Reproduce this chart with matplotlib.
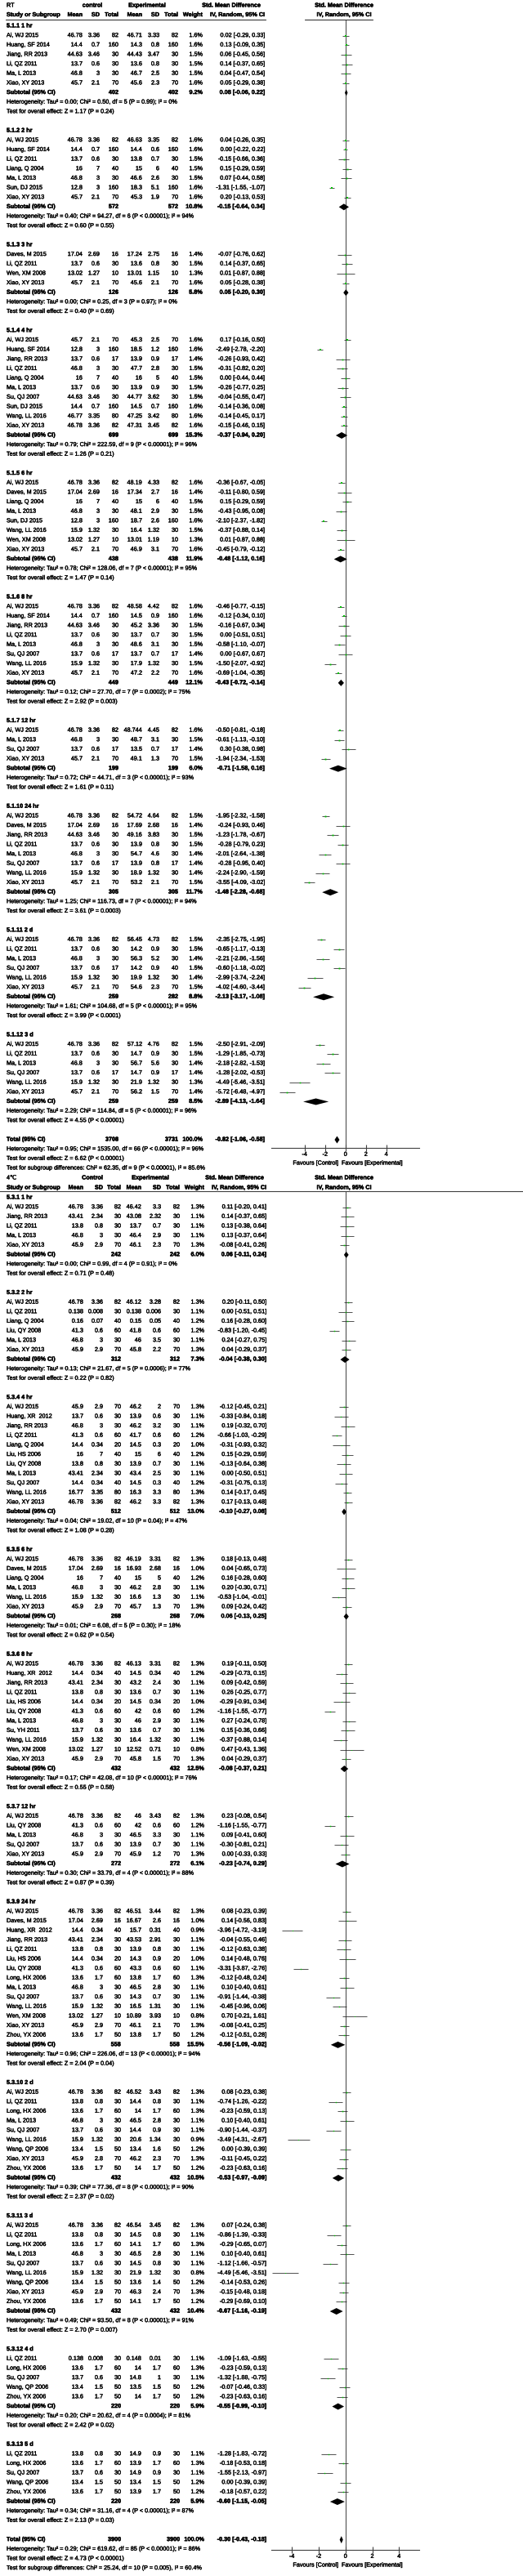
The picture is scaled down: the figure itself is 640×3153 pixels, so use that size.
import matplotlib
matplotlib.use('Agg')
import matplotlib.pyplot as plt
import matplotlib.patheffects as pe
from matplotlib import font_manager as fm
from matplotlib.textpath import TextPath
from matplotlib.font_manager import FontProperties

names = {f.name for f in fm.fontManager.ttflist}
base = 'Liberation Sans Narrow' if 'Liberation Sans Narrow' in names else 'Liberation Sans'
plt.rcParams['font.family'] = [base, 'DejaVu Sans']
plt.rcParams['axes.unicode_minus'] = False

# ---------------- data: panel 1 (RT) ----------------
RT_1HR = [
    ("Ai, WJ 2015", 46.78, 3.36, 82, 46.71, 3.33, 82, 1.6, 0.02, -0.29, 0.33),
    ("Huang, SF 2014", 14.4, 0.7, 160, 14.3, 0.8, 160, 1.6, 0.13, -0.09, 0.35),
    ("Jiang, RR 2013", 44.63, 3.46, 30, 44.43, 3.47, 30, 1.5, 0.06, -0.45, 0.56),
    ("Li, QZ 2011", 13.7, 0.6, 30, 13.6, 0.8, 30, 1.5, 0.14, -0.37, 0.65),
    ("Ma, L 2013", 46.8, 3, 30, 46.7, 2.5, 30, 1.5, 0.04, -0.47, 0.54),
    ("Xiao, XY 2013", 45.7, 2.1, 70, 45.6, 2.3, 70, 1.6, 0.05, -0.29, 0.38),
]
RT_2HR = [
    ("Ai, WJ 2015", 46.78, 3.36, 82, 46.63, 3.35, 82, 1.6, 0.04, -0.26, 0.35),
    ("Huang, SF 2014", 14.4, 0.7, 160, 14.4, 0.6, 160, 1.6, 0.00, -0.22, 0.22),
    ("Li, QZ 2011", 13.7, 0.6, 30, 13.8, 0.7, 30, 1.5, -0.15, -0.66, 0.36),
    ("Liang, Q 2004", 16, 7, 40, 15, 6, 40, 1.5, 0.15, -0.29, 0.59),
    ("Ma, L 2013", 46.8, 3, 30, 46.6, 2.6, 30, 1.5, 0.07, -0.44, 0.58),
    ("Sun, DJ 2015", 12.8, 3, 160, 18.3, 5.1, 160, 1.6, -1.31, -1.55, -1.07),
    ("Xiao, XY 2013", 45.7, 2.1, 70, 45.3, 1.9, 70, 1.6, 0.20, -0.13, 0.53),
]
RT_3HR = [
    ("Daves, M 2015", 17.04, 2.69, 16, 17.24, 2.75, 16, 1.4, -0.07, -0.76, 0.62),
    ("Li, QZ 2011", 13.7, 0.6, 30, 13.6, 0.8, 30, 1.5, 0.14, -0.37, 0.65),
    ("Wen, XM 2008", 13.02, 1.27, 10, 13.01, 1.15, 10, 1.3, 0.01, -0.87, 0.88),
    ("Xiao, XY 2013", 45.7, 2.1, 70, 45.6, 2.1, 70, 1.6, 0.05, -0.28, 0.38),
]
RT_4HR = [
    ("Ai, WJ 2015", 45.7, 2.1, 70, 45.3, 2.5, 70, 1.6, 0.17, -0.16, 0.50),
    ("Huang, SF 2014", 12.8, 3, 160, 18.5, 1.2, 160, 1.6, -2.49, -2.78, -2.20),
    ("Jiang, RR 2013", 13.7, 0.6, 17, 13.9, 0.9, 17, 1.4, -0.26, -0.93, 0.42),
    ("Li, QZ 2011", 46.8, 3, 30, 47.7, 2.8, 30, 1.5, -0.31, -0.82, 0.20),
    ("Liang, Q 2004", 16, 7, 40, 16, 5, 40, 1.5, 0.00, -0.44, 0.44),
    ("Ma, L 2013", 13.7, 0.6, 30, 13.9, 0.9, 30, 1.5, -0.26, -0.77, 0.25),
    ("Su, QJ 2007", 44.63, 3.46, 30, 44.77, 3.62, 30, 1.5, -0.04, -0.55, 0.47),
    ("Sun, DJ 2015", 14.4, 0.7, 160, 14.5, 0.7, 160, 1.6, -0.14, -0.36, 0.08),
    ("Wang, LL 2016", 46.77, 3.35, 80, 47.25, 3.42, 80, 1.6, -0.14, -0.45, 0.17),
    ("Xiao, XY 2013", 46.78, 3.36, 82, 47.31, 3.45, 82, 1.6, -0.15, -0.46, 0.15),
]
RT_6HR = [
    ("Ai, WJ 2015", 46.78, 3.36, 82, 48.19, 4.33, 82, 1.6, -0.36, -0.67, -0.05),
    ("Daves, M 2015", 17.04, 2.69, 16, 17.34, 2.7, 16, 1.4, -0.11, -0.80, 0.59),
    ("Liang, Q 2004", 16, 7, 40, 15, 6, 40, 1.5, 0.15, -0.29, 0.59),
    ("Ma, L 2013", 46.8, 3, 30, 48.1, 2.9, 30, 1.5, -0.43, -0.95, 0.08),
    ("Sun, DJ 2015", 12.8, 3, 160, 18.7, 2.6, 160, 1.6, -2.10, -2.37, -1.82),
    ("Wang, LL 2016", 15.9, 1.32, 30, 16.4, 1.32, 30, 1.5, -0.37, -0.88, 0.14),
    ("Wen, XM 2008", 13.02, 1.27, 10, 13.01, 1.19, 10, 1.3, 0.01, -0.87, 0.88),
    ("Xiao, XY 2013", 45.7, 2.1, 70, 46.9, 3.1, 70, 1.6, -0.45, -0.79, -0.12),
]
RT_8HR = [
    ("Ai, WJ 2015", 46.78, 3.36, 82, 48.58, 4.42, 82, 1.6, -0.46, -0.77, -0.15),
    ("Huang, SF 2014", 14.4, 0.7, 160, 14.5, 0.9, 160, 1.6, -0.12, -0.34, 0.10),
    ("Jiang, RR 2013", 44.63, 3.46, 30, 45.2, 3.36, 30, 1.5, -0.16, -0.67, 0.34),
    ("Li, QZ 2011", 13.7, 0.6, 30, 13.7, 0.7, 30, 1.5, 0.00, -0.51, 0.51),
    ("Ma, L 2013", 46.8, 3, 30, 48.6, 3.1, 30, 1.5, -0.58, -1.10, -0.07),
    ("Su, QJ 2007", 13.7, 0.6, 17, 13.7, 0.7, 17, 1.4, 0.00, -0.67, 0.67),
    ("Wang, LL 2016", 15.9, 1.32, 30, 17.9, 1.32, 30, 1.5, -1.50, -2.07, -0.92),
    ("Xiao, XY 2013", 45.7, 2.1, 70, 47.2, 2.2, 70, 1.6, -0.69, -1.04, -0.35),
]
RT_12HR = [
    ("Ai, WJ 2015", 46.78, 3.36, 82, 48.744, 4.45, 82, 1.6, -0.50, -0.81, -0.18),
    ("Ma, L 2013", 46.8, 3, 30, 48.7, 3.1, 30, 1.5, -0.61, -1.13, -0.10),
    ("Su, QJ 2007", 13.7, 0.6, 17, 13.5, 0.7, 17, 1.4, 0.30, -0.38, 0.98),
    ("Xiao, XY 2013", 45.7, 2.1, 70, 49.1, 1.3, 70, 1.5, -1.94, -2.34, -1.53),
]
RT_24HR = [
    ("Ai, WJ 2015", 46.78, 3.36, 82, 54.72, 4.64, 82, 1.5, -1.95, -2.32, -1.58),
    ("Daves, M 2015", 17.04, 2.69, 16, 17.69, 2.68, 16, 1.4, -0.24, -0.93, 0.46),
    ("Jiang, RR 2013", 44.63, 3.46, 30, 49.16, 3.83, 30, 1.5, -1.23, -1.78, -0.67),
    ("Li, QZ 2011", 13.7, 0.6, 30, 13.9, 0.8, 30, 1.5, -0.28, -0.79, 0.23),
    ("Ma, L 2013", 46.8, 3, 30, 54.7, 4.6, 30, 1.4, -2.01, -2.64, -1.38),
    ("Su, QJ 2007", 13.7, 0.6, 17, 13.9, 0.8, 17, 1.4, -0.28, -0.95, 0.40),
    ("Wang, LL 2016", 15.9, 1.32, 30, 18.9, 1.32, 30, 1.4, -2.24, -2.90, -1.59),
    ("Xiao, XY 2013", 45.7, 2.1, 70, 53.2, 2.1, 70, 1.5, -3.55, -4.09, -3.02),
]
RT_2D = [
    ("Ai, WJ 2015", 46.78, 3.36, 82, 56.45, 4.73, 82, 1.5, -2.35, -2.75, -1.95),
    ("Li, QZ 2011", 13.7, 0.6, 30, 14.2, 0.9, 30, 1.5, -0.65, -1.17, -0.13),
    ("Ma, L 2013", 46.8, 3, 30, 56.3, 5.2, 30, 1.4, -2.21, -2.86, -1.56),
    ("Su, QJ 2007", 13.7, 0.6, 17, 14.2, 0.9, 40, 1.5, -0.60, -1.18, -0.02),
    ("Wang, LL 2016", 15.9, 1.32, 30, 19.9, 1.32, 30, 1.4, -2.99, -3.74, -2.24),
    ("Xiao, XY 2013", 45.7, 2.1, 70, 54.6, 2.3, 70, 1.5, -4.02, -4.60, -3.44),
]
RT_3D = [
    ("Ai, WJ 2015", 46.78, 3.36, 82, 57.12, 4.76, 82, 1.5, -2.50, -2.91, -2.09),
    ("Li, QZ 2011", 13.7, 0.6, 30, 14.7, 0.9, 30, 1.5, -1.29, -1.85, -0.73),
    ("Ma, L 2013", 46.8, 3, 30, 56.7, 5.6, 30, 1.4, -2.18, -2.82, -1.53),
    ("Su, QJ 2007", 13.7, 0.6, 17, 14.7, 0.9, 17, 1.4, -1.28, -2.02, -0.53),
    ("Wang, LL 2016", 15.9, 1.32, 30, 21.9, 1.32, 30, 1.3, -4.49, -5.46, -3.51),
    ("Xiao, XY 2013", 45.7, 2.1, 70, 56.2, 1.5, 70, 1.4, -5.72, -6.48, -4.97),
]
RT_TITLES = ["5.1.1 1 hr", "5.1.2 2 hr", "5.1.3 3 hr", "5.1.4 4 hr", "5.1.5 6 hr",
             "5.1.6 8 hr", "5.1.7 12 hr", "5.1.10 24 hr", "5.1.11 2 d", "5.1.12 3 d"]
RT_STUDIES = [RT_1HR, RT_2HR, RT_3HR, RT_4HR, RT_6HR, RT_8HR, RT_12HR, RT_24HR, RT_2D, RT_3D]
RT_SUBTOTALS = [
    (402, 402, 9.2, 0.08, -0.06, 0.22), (572, 572, 10.8, -0.15, -0.64, 0.34),
    (126, 126, 5.8, 0.05, -0.20, 0.30), (699, 699, 15.3, -0.37, -0.94, 0.20),
    (438, 438, 11.9, -0.48, -1.12, 0.16), (449, 449, 12.1, -0.43, -0.72, -0.14),
    (199, 199, 6.0, -0.71, -1.58, 0.16), (305, 305, 11.7, -1.48, -2.28, -0.68),
    (259, 282, 8.8, -2.13, -3.17, -1.08), (259, 259, 8.5, -2.89, -4.13, -1.64),
]
RT_HET = [
    "Tau² = 0.00; Chi² = 0.50, df = 5 (P = 0.99); I² = 0%",
    "Tau² = 0.40; Chi² = 94.27, df = 6 (P < 0.00001); I² = 94%",
    "Tau² = 0.00; Chi² = 0.25, df = 3 (P = 0.97); I² = 0%",
    "Tau² = 0.79; Chi² = 222.59, df = 9 (P < 0.00001); I² = 96%",
    "Tau² = 0.78; Chi² = 128.06, df = 7 (P < 0.00001); I² = 95%",
    "Tau² = 0.12; Chi² = 27.70, df = 7 (P = 0.0002); I² = 75%",
    "Tau² = 0.72; Chi² = 44.71, df = 3 (P < 0.00001); I² = 93%",
    "Tau² = 1.25; Chi² = 116.73, df = 7 (P < 0.00001); I² = 94%",
    "Tau² = 1.61; Chi² = 104.68, df = 5 (P < 0.00001); I² = 95%",
    "Tau² = 2.29; Chi² = 114.84, df = 5 (P < 0.00001); I² = 96%",
]
RT_TEST = ["Z = 1.17 (P = 0.24)", "Z = 0.60 (P = 0.55)", "Z = 0.40 (P = 0.69)",
           "Z = 1.26 (P = 0.21)", "Z = 1.47 (P = 0.14)", "Z = 2.92 (P = 0.003)",
           "Z = 1.61 (P = 0.11)", "Z = 3.61 (P = 0.0003)", "Z = 3.99 (P < 0.0001)",
           "Z = 4.55 (P < 0.00001)"]
RT_TOTAL = (3708, 3731, 100.0, -0.82, -1.06, -0.58)
RT_TOTAL_TEXT = ["Heterogeneity: Tau² = 0.95; Chi² = 1535.00, df = 66 (P < 0.00001); I² = 96%",
                 "Test for overall effect: Z = 6.62 (P < 0.00001)",
                 "Test for subgroup differences: Chi² = 62.35, df = 9 (P < 0.00001), I² = 85.6%"]

# ---------------- data: panel 2 (4 C) ----------------
C4_1HR = [
    ("Ai, WJ 2015", 46.78, 3.36, 82, 46.42, 3.3, 82, 1.3, 0.11, -0.20, 0.41),
    ("Jiang, RR 2013", 43.41, 2.34, 30, 43.08, 2.32, 30, 1.1, 0.14, -0.37, 0.65),
    ("Li, QZ 2011", 13.8, 0.8, 30, 13.7, 0.7, 30, 1.1, 0.13, -0.38, 0.64),
    ("Ma, L 2013", 46.8, 3, 30, 46.4, 2.9, 30, 1.1, 0.13, -0.37, 0.64),
    ("Xiao, XY 2013", 45.9, 2.9, 70, 46.1, 2.3, 70, 1.3, -0.08, -0.41, 0.26),
]
C4_2HR = [
    ("Ai, WJ 2015", 46.78, 3.36, 82, 46.12, 3.28, 82, 1.3, 0.20, -0.11, 0.50),
    ("Li, QZ 2011", 0.138, 0.008, 30, 0.138, 0.006, 30, 1.1, 0.00, -0.51, 0.51),
    ("Liang, Q 2004", 0.16, 0.07, 40, 0.15, 0.05, 40, 1.2, 0.16, -0.28, 0.60),
    ("Liu, QY 2008", 41.3, 0.6, 60, 41.8, 0.6, 60, 1.2, -0.83, -1.20, -0.45),
    ("Ma, L 2013", 46.8, 3, 30, 46, 3.5, 30, 1.1, 0.24, -0.27, 0.75),
    ("Xiao, XY 2013", 45.9, 2.9, 70, 45.8, 2.2, 70, 1.3, 0.04, -0.29, 0.37),
]
C4_4HR = [
    ("Ai, WJ 2015", 45.9, 2.9, 70, 46.2, 2, 70, 1.3, -0.12, -0.45, 0.21),
    ("Huang, XR  2012", 13.7, 0.6, 30, 13.9, 0.6, 30, 1.1, -0.33, -0.84, 0.18),
    ("Jiang, RR 2013", 46.8, 3, 30, 46.2, 3.2, 30, 1.1, 0.19, -0.32, 0.70),
    ("Li, QZ 2011", 41.3, 0.6, 60, 41.7, 0.6, 60, 1.2, -0.66, -1.03, -0.29),
    ("Liang, Q 2004", 14.4, 0.34, 20, 14.5, 0.3, 20, 1.0, -0.31, -0.93, 0.32),
    ("Liu, HS 2006", 16, 7, 40, 15, 6, 40, 1.2, 0.15, -0.29, 0.59),
    ("Liu, QY 2008", 13.8, 0.8, 30, 13.9, 0.7, 30, 1.1, -0.13, -0.64, 0.38),
    ("Ma, L 2013", 43.41, 2.34, 30, 43.4, 2.5, 30, 1.1, 0.00, -0.50, 0.51),
    ("Su, QJ 2007", 14.4, 0.34, 40, 14.5, 0.3, 40, 1.2, -0.31, -0.75, 0.13),
    ("Wang, LL 2016", 16.77, 3.35, 80, 16.3, 3.3, 80, 1.3, 0.14, -0.17, 0.45),
    ("Xiao, XY 2013", 46.78, 3.36, 82, 46.2, 3.3, 82, 1.3, 0.17, -0.13, 0.48),
]
C4_6HR = [
    ("Ai, WJ 2015", 46.78, 3.36, 82, 46.19, 3.31, 82, 1.3, 0.18, -0.13, 0.48),
    ("Daves, M 2015", 17.04, 2.69, 16, 16.93, 2.68, 16, 1.0, 0.04, -0.65, 0.73),
    ("Liang, Q 2004", 16, 7, 40, 15, 5, 40, 1.2, 0.16, -0.28, 0.60),
    ("Ma, L 2013", 46.8, 3, 30, 46.2, 2.8, 30, 1.1, 0.20, -0.30, 0.71),
    ("Wang, LL 2016", 15.9, 1.32, 30, 16.6, 1.3, 30, 1.1, -0.53, -1.04, -0.01),
    ("Xiao, XY 2013", 45.9, 2.9, 70, 45.7, 1.3, 70, 1.3, 0.09, -0.24, 0.42),
]
C4_8HR = [
    ("Ai, WJ 2015", 46.78, 3.36, 82, 46.13, 3.31, 82, 1.3, 0.19, -0.11, 0.50),
    ("Huang, XR  2012", 14.4, 0.34, 40, 14.5, 0.34, 40, 1.2, -0.29, -0.73, 0.15),
    ("Jiang, RR 2013", 43.41, 2.34, 30, 43.2, 2.4, 30, 1.1, 0.09, -0.42, 0.59),
    ("Li, QZ 2011", 13.8, 0.8, 30, 13.6, 0.7, 30, 1.1, 0.26, -0.25, 0.77),
    ("Liu, HS 2006", 14.4, 0.34, 20, 14.5, 0.34, 20, 1.0, -0.29, -0.91, 0.34),
    ("Liu, QY 2008", 41.3, 0.6, 60, 42, 0.6, 60, 1.2, -1.16, -1.55, -0.77),
    ("Ma, L 2013", 46.8, 3, 30, 46, 2.9, 30, 1.1, 0.27, -0.24, 0.78),
    ("Su, YH 2011", 13.7, 0.6, 30, 13.6, 0.7, 30, 1.1, 0.15, -0.36, 0.66),
    ("Wang, LL 2016", 15.9, 1.32, 30, 16.4, 1.32, 30, 1.1, -0.37, -0.88, 0.14),
    ("Wen, XM 2008", 13.02, 1.27, 10, 12.52, 0.71, 10, 0.8, 0.47, -0.43, 1.36),
    ("Xiao, XY 2013", 45.9, 2.9, 70, 45.8, 1.5, 70, 1.3, 0.04, -0.29, 0.37),
]
C4_12HR = [
    ("Ai, WJ 2015", 46.78, 3.36, 82, 46, 3.43, 82, 1.3, 0.23, -0.08, 0.54),
    ("Liu, QY 2008", 41.3, 0.6, 60, 42, 0.6, 60, 1.2, -1.16, -1.55, -0.77),
    ("Ma, L 2013", 46.8, 3, 30, 46.5, 3.3, 30, 1.1, 0.09, -0.41, 0.60),
    ("Su, QJ 2007", 13.7, 0.6, 30, 13.9, 0.7, 30, 1.1, -0.30, -0.81, 0.21),
    ("Xiao, XY 2013", 45.9, 2.9, 70, 45.9, 1.2, 70, 1.3, 0.00, -0.33, 0.33),
]
C4_24HR = [
    ("Ai, WJ 2015", 46.78, 3.36, 82, 46.51, 3.44, 82, 1.3, 0.08, -0.23, 0.39),
    ("Daves, M 2015", 17.04, 2.69, 16, 16.67, 2.6, 16, 1.0, 0.14, -0.56, 0.83),
    ("Huang, XR  2012", 14.4, 0.34, 40, 15.7, 0.31, 40, 0.9, -3.96, -4.72, -3.19),
    ("Jiang, RR 2013", 43.41, 2.34, 30, 43.53, 2.91, 30, 1.1, -0.04, -0.55, 0.46),
    ("Li, QZ 2011", 13.8, 0.8, 30, 13.9, 0.8, 30, 1.1, -0.12, -0.63, 0.38),
    ("Liu, HS 2006", 14.4, 0.34, 20, 14.3, 0.9, 20, 1.0, 0.14, -0.48, 0.76),
    ("Liu, QY 2008", 41.3, 0.6, 60, 43.3, 0.6, 60, 1.1, -3.31, -3.87, -2.76),
    ("Long, HX 2006", 13.6, 1.7, 60, 13.8, 1.7, 60, 1.3, -0.12, -0.48, 0.24),
    ("Ma, L 2013", 46.8, 3, 30, 46.5, 2.8, 30, 1.1, 0.10, -0.40, 0.61),
    ("Su, QJ 2007", 13.7, 0.6, 30, 14.3, 0.7, 30, 1.1, -0.91, -1.44, -0.38),
    ("Wang, LL 2016", 15.9, 1.32, 30, 16.5, 1.31, 30, 1.1, -0.45, -0.96, 0.06),
    ("Wen, XM 2008", 13.02, 1.27, 10, 10.89, 3.93, 10, 0.8, 0.70, -0.21, 1.61),
    ("Xiao, XY 2013", 45.9, 2.9, 70, 46.1, 2.1, 70, 1.3, -0.08, -0.41, 0.25),
    ("Zhou, YX 2006", 13.6, 1.7, 50, 13.8, 1.7, 50, 1.2, -0.12, -0.51, 0.28),
]
C4_2D = [
    ("Ai, WJ 2015", 46.78, 3.36, 82, 46.52, 3.43, 82, 1.3, 0.08, -0.23, 0.38),
    ("Li, QZ 2011", 13.8, 0.8, 30, 14.4, 0.8, 30, 1.1, -0.74, -1.26, -0.22),
    ("Long, HX 2006", 13.6, 1.7, 60, 14, 1.7, 60, 1.3, -0.23, -0.59, 0.13),
    ("Ma, L 2013", 46.8, 3, 30, 46.5, 2.8, 30, 1.1, 0.10, -0.40, 0.61),
    ("Su, QJ 2007", 13.7, 0.6, 30, 14.4, 0.9, 30, 1.1, -0.90, -1.44, -0.37),
    ("Wang, LL 2016", 15.9, 1.32, 30, 20.6, 1.34, 30, 0.9, -3.49, -4.31, -2.67),
    ("Wang, QP 2006", 13.4, 1.5, 50, 13.4, 1.6, 50, 1.2, 0.00, -0.39, 0.39),
    ("Xiao, XY 2013", 45.9, 2.8, 70, 46.2, 2.3, 70, 1.3, -0.11, -0.45, 0.22),
    ("Zhou, YX 2006", 13.6, 1.7, 50, 14, 1.7, 50, 1.2, -0.23, -0.63, 0.16),
]
C4_3D = [
    ("Ai, WJ 2015", 46.78, 3.36, 82, 46.54, 3.45, 82, 1.3, 0.07, -0.24, 0.38),
    ("Li, QZ 2011", 13.8, 0.8, 30, 14.5, 0.8, 30, 1.1, -0.86, -1.39, -0.33),
    ("Long, HX 2006", 13.6, 1.7, 60, 14.1, 1.7, 60, 1.3, -0.29, -0.65, 0.07),
    ("Ma, L 2013", 46.8, 3, 30, 46.5, 2.8, 30, 1.1, 0.10, -0.40, 0.61),
    ("Su, QJ 2007", 13.7, 0.6, 30, 14.5, 0.8, 30, 1.1, -1.12, -1.66, -0.57),
    ("Wang, LL 2016", 15.9, 1.32, 30, 21.9, 1.32, 30, 0.8, -4.49, -5.46, -3.51),
    ("Wang, QP 2006", 13.4, 1.5, 50, 13.6, 1.4, 50, 1.2, -0.14, -0.53, 0.26),
    ("Xiao, XY 2013", 45.9, 2.9, 70, 46.3, 2.4, 70, 1.3, -0.15, -0.48, 0.18),
    ("Zhou, YX 2006", 13.6, 1.7, 50, 14.1, 1.7, 50, 1.2, -0.29, -0.69, 0.10),
]
C4_4D = [
    ("Li, QZ 2011", 0.138, 0.008, 30, 0.148, 0.01, 30, 1.1, -1.09, -1.63, -0.55),
    ("Long, HX 2006", 13.6, 1.7, 60, 14, 1.7, 60, 1.3, -0.23, -0.59, 0.13),
    ("Su, QJ 2007", 13.7, 0.6, 30, 14.8, 1, 30, 1.1, -1.32, -1.88, -0.75),
    ("Wang, QP 2006", 13.4, 1.5, 50, 13.5, 1.5, 50, 1.2, -0.07, -0.46, 0.33),
    ("Zhou, YX 2006", 13.6, 1.7, 50, 14, 1.7, 50, 1.2, -0.23, -0.63, 0.16),
]
C4_5D = [
    ("Li, QZ 2011", 13.8, 0.8, 30, 14.9, 0.9, 30, 1.1, -1.28, -1.83, -0.72),
    ("Long, HX 2006", 13.6, 1.7, 60, 13.9, 1.7, 60, 1.3, -0.18, -0.53, 0.18),
    ("Su, QJ 2007", 13.7, 0.6, 30, 14.9, 0.9, 30, 1.1, -1.55, -2.13, -0.97),
    ("Wang, QP 2006", 13.4, 1.5, 50, 13.4, 1.5, 50, 1.2, 0.00, -0.39, 0.39),
    ("Zhou, YX 2006", 13.6, 1.7, 50, 13.9, 1.7, 50, 1.2, -0.18, -0.57, 0.22),
]
C4_TITLES = ["5.3.1 1 hr", "5.3.2 2 hr", "5.3.4 4 hr", "5.3.5 6 hr", "5.3.6 8 hr",
             "5.3.7 12 hr", "5.3.9 24 hr", "5.3.10 2 d", "5.3.11 3 d", "5.3.12 4 d", "5.3.13 5 d"]
C4_STUDIES = [C4_1HR, C4_2HR, C4_4HR, C4_6HR, C4_8HR, C4_12HR, C4_24HR, C4_2D, C4_3D, C4_4D, C4_5D]
C4_SUBTOTALS = [
    (242, 242, 6.0, 0.06, -0.11, 0.24), (312, 312, 7.3, -0.04, -0.38, 0.30),
    (512, 512, 13.0, -0.10, -0.27, 0.08), (268, 268, 7.0, 0.06, -0.13, 0.25),
    (432, 432, 12.5, -0.08, -0.37, 0.21), (272, 272, 6.1, -0.23, -0.74, 0.29),
    (558, 558, 15.5, -0.56, -1.09, -0.02), (432, 432, 10.5, -0.53, -0.97, -0.09),
    (432, 432, 10.4, -0.67, -1.16, -0.19), (220, 220, 5.9, -0.55, -0.99, -0.10),
    (220, 220, 5.9, -0.60, -1.15, -0.05),
]
C4_HET = [
    "Tau² = 0.00; Chi² = 0.99, df = 4 (P = 0.91); I² = 0%",
    "Tau² = 0.13; Chi² = 21.67, df = 5 (P = 0.0006); I² = 77%",
    "Tau² = 0.04; Chi² = 19.02, df = 10 (P = 0.04); I² = 47%",
    "Tau² = 0.01; Chi² = 6.08, df = 5 (P = 0.30); I² = 18%",
    "Tau² = 0.17; Chi² = 42.08, df = 10 (P < 0.00001); I² = 76%",
    "Tau² = 0.30; Chi² = 33.79, df = 4 (P < 0.00001); I² = 88%",
    "Tau² = 0.96; Chi² = 226.06, df = 13 (P < 0.00001); I² = 94%",
    "Tau² = 0.39; Chi² = 77.36, df = 8 (P < 0.00001); I² = 90%",
    "Tau² = 0.49; Chi² = 93.50, df = 8 (P < 0.00001); I² = 91%",
    "Tau² = 0.20; Chi² = 20.62, df = 4 (P = 0.0004); I² = 81%",
    "Tau² = 0.34; Chi² = 31.16, df = 4 (P < 0.00001); I² = 87%",
]
C4_TEST = ["Z = 0.71 (P = 0.48)", "Z = 0.22 (P = 0.82)", "Z = 1.08 (P = 0.28)",
           "Z = 0.62 (P = 0.54)", "Z = 0.55 (P = 0.58)", "Z = 0.87 (P = 0.39)",
           "Z = 2.04 (P = 0.04)", "Z = 2.37 (P = 0.02)", "Z = 2.70 (P = 0.007)",
           "Z = 2.42 (P = 0.02)", "Z = 2.13 (P = 0.03)"]
C4_TOTAL = (3900, 3900, 100.0, -0.30, -0.43, -0.18)
C4_TOTAL_TEXT = ["Heterogeneity: Tau² = 0.29; Chi² = 619.62, df = 85 (P < 0.00001); I² = 86%",
                 "Test for overall effect: Z = 4.73 (P < 0.00001)",
                 "Test for subgroup differences: Chi² = 25.24, df = 10 (P = 0.005), I² = 60.4%"]

TICKS = [-4, -2, 0, 2, 4]

# ---------------- layout ----------------
W, H = 640, 3153
DPI = 100
DY = 11.65
GREEN = '#00C000'


def _width_px(s, size):
    fp = FontProperties(family=plt.rcParams['font.family'], size=size)
    tp = TextPath((0, 0), s, prop=fp)
    return tp.get_extents().width * DPI / 72.0


# fit font size so the long heterogeneity line is as wide as in the reference
FS = 10 * 208.0 / _width_px("Heterogeneity: Tau² = 0.00; Chi² = 0.50, df = 5 (P = 0.99); I² = 0%", 10)
THICK = [pe.withStroke(linewidth=0.25, foreground='black')]
THICK_B = [pe.withStroke(linewidth=0.3, foreground='black')]

fig = plt.figure(figsize=(W / DPI, H / DPI), dpi=DPI)
fig.patch.set_facecolor('white')
tax = fig.add_axes([0, 0, 1, 1])
tax.set_xlim(0, W)
tax.set_ylim(H, 0)
tax.axis('off')


def T(x, y, s, ha='left', bold=False, size=None):
    tax.text(x, y, s, ha=ha, va='center', fontsize=size or FS,
             fontweight='bold' if bold else 'normal', color='black',
             path_effects=THICK_B if bold else THICK)


def make_forest(ytop, ybot, xl, xr, xlim):
    ax = fig.add_axes([xl / W, 1 - ybot / H, (xr - xl) / W, (ybot - ytop) / H])
    ax.set_facecolor('none')
    ax.set_xlim(*xlim)
    ax.set_ylim(ybot, ytop)
    for s in ('top', 'left', 'right'):
        ax.spines[s].set_visible(False)
    ax.spines['bottom'].set_color('#404040')
    ax.spines['bottom'].set_linewidth(0.8)
    ax.set_yticks([])
    ax.set_xticks(TICKS)
    ax.set_xticklabels([str(t) for t in TICKS])
    ax.tick_params(axis='x', direction='inout', length=6, width=0.8, color='#404040',
                   labelsize=FS, pad=0.5)
    for lab in ax.get_xticklabels():
        lab.set_path_effects(THICK)
    ax.axvline(0, color='#505050', lw=0.8, zorder=1)
    return ax


def draw_panel(cols, hdr, y_hdr1, y_hdr2, y0, ytop_ax, yaxis, xlim, titles, studies,
               subtotals, hets, tests, total, total_text):
    ax = make_forest(ytop_ax, yaxis, 331.7, 513.3, xlim)
    T(8, y_hdr1, hdr[0])
    T(cols['ghdr_c'], y_hdr1, hdr[1], 'center', True)
    T(cols['ghdr_e'], y_hdr1, "Experimental", 'center', True)
    T(cols['ghdr_s'], y_hdr1, "Std. Mean Difference", 'center', True)
    T(421, y_hdr1, "Std. Mean Difference", 'center', True)
    T(8, y_hdr2, "Study or Subgroup", bold=True)
    for key, lab in (('cm', 'Mean'), ('csd', 'SD'), ('cn', 'Total'), ('em', 'Mean'),
                     ('esd', 'SD'), ('en', 'Total'), ('w', 'Weight'), ('ci', 'IV, Random, 95% CI')):
        T(cols[key], y_hdr2, lab, 'right', True)
    T(421, y_hdr2, "IV, Random, 95% CI", 'center', True)

    row = 0
    for title, st, sub, het, tst in zip(titles, studies, subtotals, hets, tests):
        T(8, y0 + row * DY, title, bold=True)
        row += 1
        for (name, cm, csd, cn, em, esd, en, w, smd, lo, hi) in st:
            y = y0 + row * DY
            T(8, y, name)
            T(cols['cm'], y, f"{cm:g}", 'right')
            T(cols['csd'], y, f"{csd:g}", 'right')
            T(cols['cn'], y, f"{cn}", 'right')
            T(cols['em'], y, f"{em:g}", 'right')
            T(cols['esd'], y, f"{esd:g}", 'right')
            T(cols['en'], y, f"{en}", 'right')
            T(cols['w'], y, f"{w:.1f}%", 'right')
            T(cols['ci'], y, f"{smd:.2f} [{lo:.2f}, {hi:.2f}]", 'right')
            ax.plot([lo, hi], [y, y], color='#202020', lw=0.55, solid_capstyle='butt', zorder=2)
            ax.plot([smd], [y], marker='s', ms=w * 0.9, color=GREEN, mec=GREEN, mew=0, zorder=3)
            row += 1
        y = y0 + row * DY
        cn, en, w, smd, lo, hi = sub
        T(8, y, "Subtotal (95% CI)", bold=True)
        T(cols['cn'], y, f"{cn}", 'right', True)
        T(cols['en'], y, f"{en}", 'right', True)
        T(cols['w'], y, f"{w:.1f}%", 'right', True)
        T(cols['ci'], y, f"{smd:.2f} [{lo:.2f}, {hi:.2f}]", 'right', True)
        ax.fill([lo, smd, hi, smd], [y, y - 4, y, y + 4], color='black', lw=0, zorder=3)
        row += 1
        T(8, y0 + row * DY, "Heterogeneity: " + het)
        row += 1
        T(8, y0 + row * DY, "Test for overall effect: " + tst)
        row += 2
    y = y0 + row * DY
    cn, en, w, smd, lo, hi = total
    T(8, y, "Total (95% CI)", bold=True)
    T(cols['cn'], y, f"{cn}", 'right', True)
    T(cols['en'], y, f"{en}", 'right', True)
    T(cols['w'], y, f"{w:.1f}%", 'right', True)
    T(cols['ci'], y, f"{smd:.2f} [{lo:.2f}, {hi:.2f}]", 'right', True)
    ax.fill([lo, smd, hi, smd], [y, y - 4.5, y, y + 4.5], color='black', lw=0, zorder=3)
    for k, s in enumerate(total_text):
        T(8, y + (k + 1) * DY, s)
    T(414, yaxis + 19, "Favours [Control]", 'right')
    T(418, yaxis + 19, "Favours [Experimental]", 'left')
    return ax


COLS1 = dict(cm=101, csd=122, cn=145, em=174, esd=195, en=218, w=248, ci=324,
             ghdr_c=113, ghdr_e=180, ghdr_s=283)
COLS2 = dict(cm=102, csd=126, cn=148, em=173, esd=197, en=220, w=250, ci=326,
             ghdr_c=113, ghdr_e=184, ghdr_s=287)

# panel 1: 12.5 px per unit, zero at x=422.7
draw_panel(COLS1, ("RT", "control"), 7, 18.5, 32, 25, 1405,
           ((331.7 - 422.7) / 12.5, (513.3 - 422.7) / 12.5),
           RT_TITLES, RT_STUDIES, RT_SUBTOTALS, RT_HET, RT_TEST, RT_TOTAL, RT_TOTAL_TEXT)
tax.plot([7, 325], [23.5, 23.5], color='black', lw=0.6)
tax.plot([373, 456], [23.5, 23.5], color='black', lw=0.6)

# panel 2: 16.4 px per unit
draw_panel(COLS2, ("4℃", "Control"), 1442, 1454, 1466, 1459, 3121,
           ((331.7 - 422.7) / 16.4, (513.3 - 422.7) / 16.4),
           C4_TITLES, C4_STUDIES, C4_SUBTOTALS, C4_HET, C4_TEST, C4_TOTAL, C4_TOTAL_TEXT)
tax.plot([0, 640], [1458, 1458], color='#404040', lw=0.8)

fig.savefig('out.png', dpi=DPI, facecolor='white')
